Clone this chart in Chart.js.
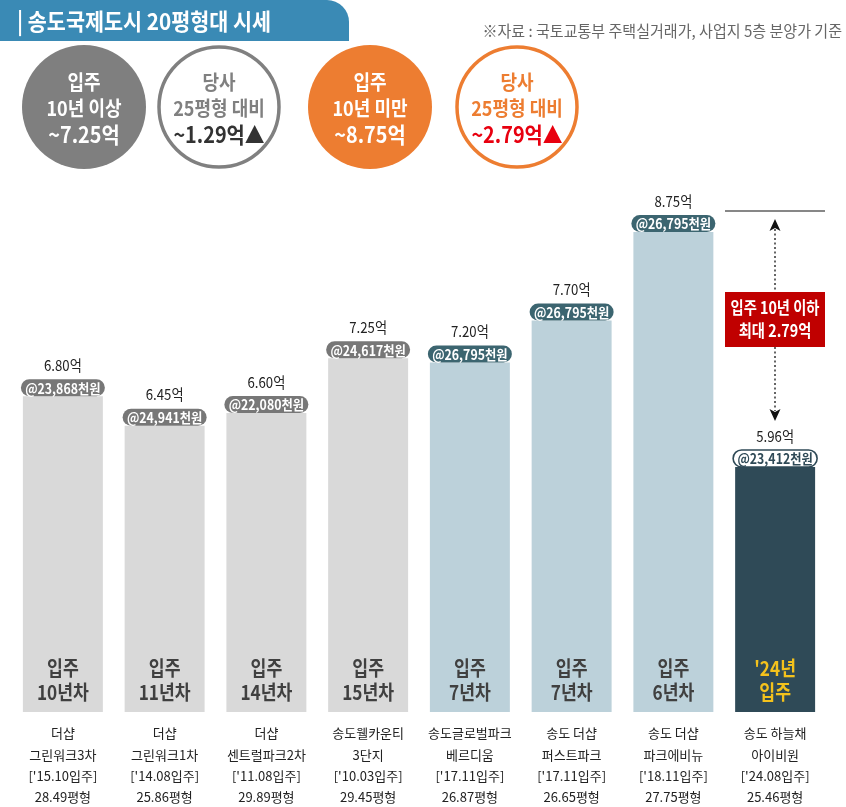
<!DOCTYPE html>
<html>
<head>
<meta charset="utf-8">
<script src="https://cdn.jsdelivr.net/npm/chart.js"></script>
<style>
html,body{margin:0;padding:0;background:#fff;overflow:hidden;}
#wrap{width:846px;height:807px;position:relative;}
</style>
</head>
<body>
<div id="wrap"><canvas id="c" width="846" height="807"></canvas></div>
<script>
// ---- data ----
const categories = [
  ["더샵","그린워크3차","['15.10입주]","28.49평형"],
  ["더샵","그린워크1차","['14.08입주]","25.86평형"],
  ["더샵","센트럴파크2차","['11.08입주]","29.89평형"],
  ["송도웰카운티","3단지","['10.03입주]","29.45평형"],
  ["송도글로벌파크","베르디움","['17.11입주]","26.87평형"],
  ["송도 더샵","퍼스트파크","['17.11입주]","26.65평형"],
  ["송도 더샵","파크에비뉴","['18.11입주]","27.75평형"],
  ["송도 하늘채","아이비원","['24.08입주]","25.46평형"]
];
const prices = [6.80, 6.45, 6.60, 7.25, 7.20, 7.70, 8.75, 5.96];
const pricePerPyeong = ["@23,868천원","@24,941천원","@22,080천원","@24,617천원","@26,795천원","@26,795천원","@26,795천원","@23,412천원"];
const tenure = [["입주","10년차"],["입주","11년차"],["입주","14년차"],["입주","15년차"],["입주","7년차"],["입주","7년차"],["입주","6년차"],["'24년","입주"]];
const groups = ["old","old","old","old","new","new","new","target"];
const title = "| 송도국제도시 20평형대 시세";
const source = "※자료 : 국토교통부 주택실거래가, 사업지 5층 분양가 기준";
const summary = [
  {lines:["입주","10년 이상","~7.25억"], type:"fillGray"},
  {lines:["당사","25평형 대비","~1.29억▲"], type:"ringGray"},
  {lines:["입주","10년 미만","~8.75억"], type:"fillOrange"},
  {lines:["당사","25평형 대비","~2.79억▲"], type:"ringOrange"}
];
const gapNote = ["입주 10년 이하","최대 2.79억"];

// ---- styles ----
const FONT = '"Noto Sans CJK KR", "Noto Sans", sans-serif';
const barColor = {old:"#d9d9d9", new:"#bcd1da", target:"#2f4a57"};
const pillColor = {old:"#777777", new:"#3c6570", target:"#ffffff"};
const innerColor = {old:"#404040", new:"#404040", target:"#f4c21c"};

function txt(ctx, s, x, y, size, weight, color, sx, align) {
  ctx.save();
  ctx.font = weight + " " + size + "px " + FONT;
  ctx.fillStyle = color;
  ctx.textAlign = align || "center";
  ctx.textBaseline = "middle";
  ctx.translate(x, y);
  ctx.scale(sx || 1, 1);
  ctx.fillText(s, 0, 0);
  ctx.restore();
}
function pill(ctx, cx, cy, w, h, fill, stroke) {
  const r = h / 2, x = cx - w / 2, y = cy - h / 2;
  ctx.beginPath();
  ctx.moveTo(x + r, y);
  ctx.lineTo(x + w - r, y);
  ctx.arc(x + w - r, y + r, r, -Math.PI / 2, Math.PI / 2);
  ctx.lineTo(x + r, y + h);
  ctx.arc(x + r, y + r, r, Math.PI / 2, Math.PI * 1.5);
  ctx.closePath();
  ctx.fillStyle = fill; ctx.fill();
  if (stroke) { ctx.lineWidth = 1.6; ctx.strokeStyle = stroke; ctx.stroke(); }
}

const decor = {
  id: "decor",
  beforeDraw(chart) {
    const ctx = chart.ctx;
    ctx.save();
    ctx.fillStyle = "#fff";
    ctx.fillRect(0, 0, chart.width, chart.height);
    // header tab
    ctx.beginPath();
    ctx.moveTo(0, 0); ctx.lineTo(327, 0);
    ctx.arcTo(349, 0, 349, 22, 22);
    ctx.lineTo(349, 41); ctx.lineTo(0, 41); ctx.closePath();
    ctx.fillStyle = "#3a8ab5"; ctx.fill();
    txt(ctx, title, 17, 21, 23, "bold", "#fff", 0.9, "left");
    txt(ctx, source, 842, 31, 15.5, "normal", "#666", 0.97, "right");
    // summary circles
    const cx = [84, 219, 370, 517], cy = 107, r = 62;
    summary.forEach((c, i) => {
      ctx.beginPath();
      if (c.type.startsWith("fill")) {
        ctx.arc(cx[i], cy, r, 0, Math.PI * 2);
        ctx.fillStyle = c.type === "fillGray" ? "#7f7f7f" : "#ed7d31";
        ctx.fill();
      } else {
        ctx.arc(cx[i], cy, r - 2, 0, Math.PI * 2);
        ctx.fillStyle = "#fff"; ctx.fill();
        ctx.lineWidth = 3.5;
        ctx.strokeStyle = c.type === "ringGray" ? "#808080" : "#ed7d31";
        ctx.stroke();
      }
      let c1, c3;
      if (c.type === "fillGray" || c.type === "fillOrange") { c1 = "#fff"; c3 = "#fff"; }
      else if (c.type === "ringGray") { c1 = "#808080"; c3 = "#333"; }
      else { c1 = "#ed7d31"; c3 = "#e8000f"; }
      txt(ctx, c.lines[0], cx[i], 82, 20, "bold", c1, 0.9);
      txt(ctx, c.lines[1], cx[i], 108, 20, "bold", c1, 0.9);
      txt(ctx, c.lines[2], cx[i], 135, 22, "bold", c3, 0.9);
    });
    ctx.restore();
  },
  afterDatasetsDraw(chart) {
    const ctx = chart.ctx;
    const meta = chart.getDatasetMeta(0);
    const area = chart.chartArea;
    meta.data.forEach((bar, i) => {
      const g = groups[i];
      const top = bar.y;
      pill(ctx, bar.x, top - 8.5, 84, 17, pillColor[g], g === "target" ? "#2f4a57" : null);
      txt(ctx, pricePerPyeong[i], bar.x, top - 8, 14, "bold", g === "target" ? "#2f4a57" : "#fff", 0.88);
      txt(ctx, prices[i].toFixed(2) + "억", bar.x, top - 31, 15, "normal", "#222", 0.88);
      txt(ctx, tenure[i][0], bar.x, area.bottom - 44, 20, "bold", innerColor[g], 0.86);
      txt(ctx, tenure[i][1], bar.x, area.bottom - 20, 20, "bold", innerColor[g], 0.86);
    });
    // gap annotation
    const ys = chart.scales.y;
    const yMax = ys.getPixelForValue(prices[6]) - 21;
    const ax = 775;
    ctx.save();
    ctx.strokeStyle = "#111"; ctx.lineWidth = 1.2;
    ctx.beginPath(); ctx.moveTo(725, yMax); ctx.lineTo(825, yMax); ctx.stroke();
    const boxTop = 292, boxBot = 347;
    const arrowTop = yMax + 8, arrowBot = meta.data[7].y - 46;
    ctx.setLineDash([2, 2.5]); ctx.lineWidth = 1.5; ctx.strokeStyle = "#333";
    ctx.beginPath(); ctx.moveTo(ax, arrowTop + 10); ctx.lineTo(ax, boxTop);
    ctx.moveTo(ax, boxBot); ctx.lineTo(ax, arrowBot - 10); ctx.stroke();
    ctx.setLineDash([]);
    ctx.fillStyle = "#111";
    ctx.beginPath(); ctx.moveTo(ax, arrowTop); ctx.lineTo(ax - 5.5, arrowTop + 12); ctx.lineTo(ax, arrowTop + 9); ctx.lineTo(ax + 5.5, arrowTop + 12); ctx.closePath(); ctx.fill();
    ctx.beginPath(); ctx.moveTo(ax, arrowBot); ctx.lineTo(ax - 5.5, arrowBot - 12); ctx.lineTo(ax, arrowBot - 9); ctx.lineTo(ax + 5.5, arrowBot - 12); ctx.closePath(); ctx.fill();
    ctx.fillStyle = "#c00000";
    ctx.fillRect(725, boxTop, 100, boxBot - boxTop);
    txt(ctx, gapNote[0], 775, 308, 17, "bold", "#fff", 0.84);
    txt(ctx, gapNote[1], 775, 331, 17, "bold", "#fff", 0.84);
    ctx.restore();
  }
};

new Chart(document.getElementById("c"), {
  type: "bar",
  data: {
    labels: categories,
    datasets: [{
      data: prices,
      backgroundColor: groups.map(g => barColor[g]),
      borderWidth: 0,
      barPercentage: 0.786,
      categoryPercentage: 1.0
    }]
  },
  options: {
    responsive: false,
    animation: false,
    devicePixelRatio: 1,
    layout: { padding: { top: 200, left: 12, right: 20, bottom: 0 } },
    plugins: { legend: { display: false }, tooltip: { enabled: false } },
    scales: {
      x: {
        grid: { display: false, drawTicks: false },
        border: { display: false },
        afterFit(scale) { scale.height = 95; },
        ticks: {
          color: "#222",
          padding: 11,
          maxRotation: 0,
          autoSkip: false,
          font: { family: FONT, size: 13, lineHeight: 1.62 }
        }
      },
      y: {
        display: false,
        min: 3.05,
        max: 9.13
      }
    }
  },
  plugins: [decor]
});
</script>
</body>
</html>
